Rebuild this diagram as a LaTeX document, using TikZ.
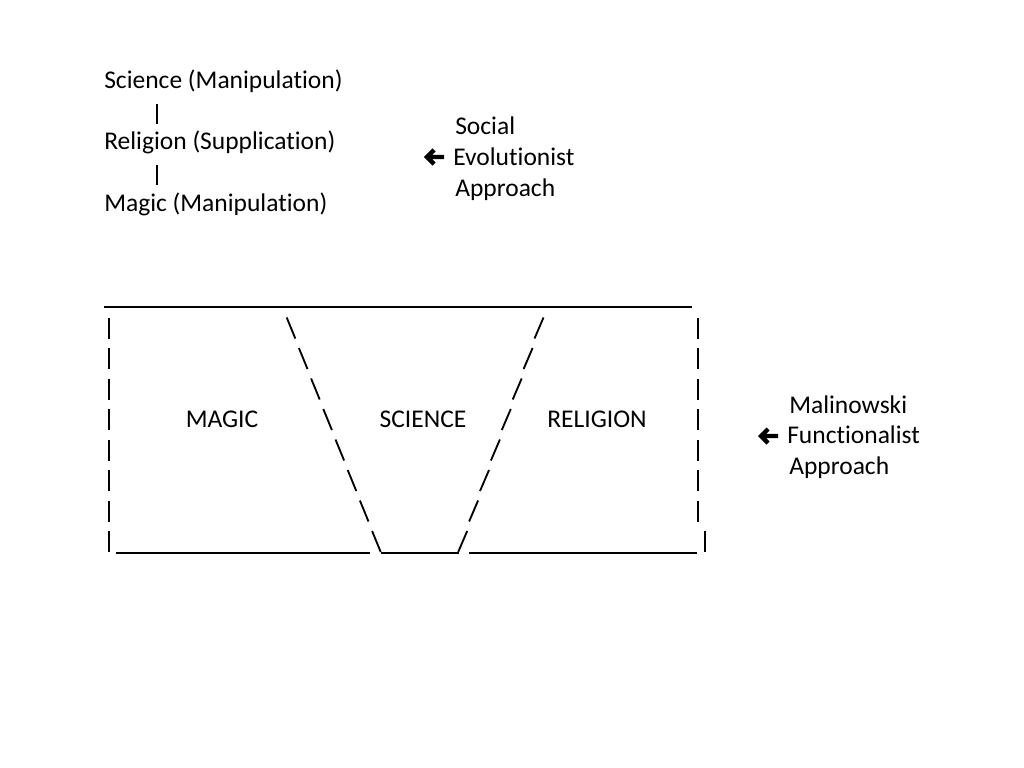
\documentclass[tikz,border=0pt]{standalone}
\usepackage{fontspec}
\setmainfont[Ligatures=NoCommon]{Carlito}
\begin{document}
\begin{tikzpicture}[x=0.24805mm,y=-0.24805mm,
  every node/.style={inner sep=0pt,anchor=base west,font=\fontsize{18}{21.4}\selectfont},
  glyph/.style={line width=1.3pt},
  pointer/.style={line width=3pt,line join=miter}]
\useasboundingbox (0,0) rectangle (1024,768);

% evolutionist ladder
\node (sci) at (104,89) {Science (Manipulation)};
\node (rel) at (104,150) {Religion (Supplication)};
\node (mag) at (104,211) {Magic (Manipulation)};
\draw[glyph] (157,104) -- (157,124);
\draw[glyph] (157,165) -- (157,185);

\node (socA) at (455,135) {Social};
\node (socB) at (453,165.5) {Evolutionist};
\node (socC) at (455,196) {Approach};
\coordinate (socTail) at (444,157);
\coordinate (socTip) at (427,157);
\draw[pointer] (socTail) -- (socTip) ++(7,-7) -- (socTip) -- ++(7,7);

% the box
\draw[glyph] (104,307) -- (692,307);
\foreach \i in {0,...,7}{
  \pgfmathsetmacro\yc{328+30.5*\i}
  \pgfmathsetmacro\bx{291+12.2*\i}
  \pgfmathsetmacro\sx{539-10.9*\i}
  \draw[glyph] (109,\yc-10.5) -- (109,\yc+10.5);
  \draw[glyph] (\bx-4.3,\yc-10.5) -- (\bx+4.3,\yc+10.5);
  \draw[glyph] (\sx+4.5,\yc-10.5) -- (\sx-4.5,\yc+10.5);
}
\foreach \i in {0,...,6}{
  \pgfmathsetmacro\yc{328+30.5*\i}
  \draw[glyph] (698,\yc-10.5) -- (698,\yc+10.5);
}
\draw[glyph] (705,531) -- (705,552);
\draw[glyph] (116,553) -- (370,553);
\draw[glyph] (381,553) -- (459,553);
\draw[glyph] (469,553) -- (697,553);

\node[anchor=base] (magic) at (222,427) {MAGIC};
\node[anchor=base] (science) at (423,427) {SCIENCE};
\node[anchor=base] (religion) at (597,427) {RELIGION};

% functionalist label
\node (malA) at (789,413) {Malinowski};
\node (malB) at (787,443.5) {Functionalist};
\node (malC) at (789,474) {Approach};
\coordinate (malTail) at (778,436);
\coordinate (malTip) at (761,436);
\draw[pointer] (malTail) -- (malTip) ++(7,-7) -- (malTip) -- ++(7,7);
\end{tikzpicture}
\end{document}
